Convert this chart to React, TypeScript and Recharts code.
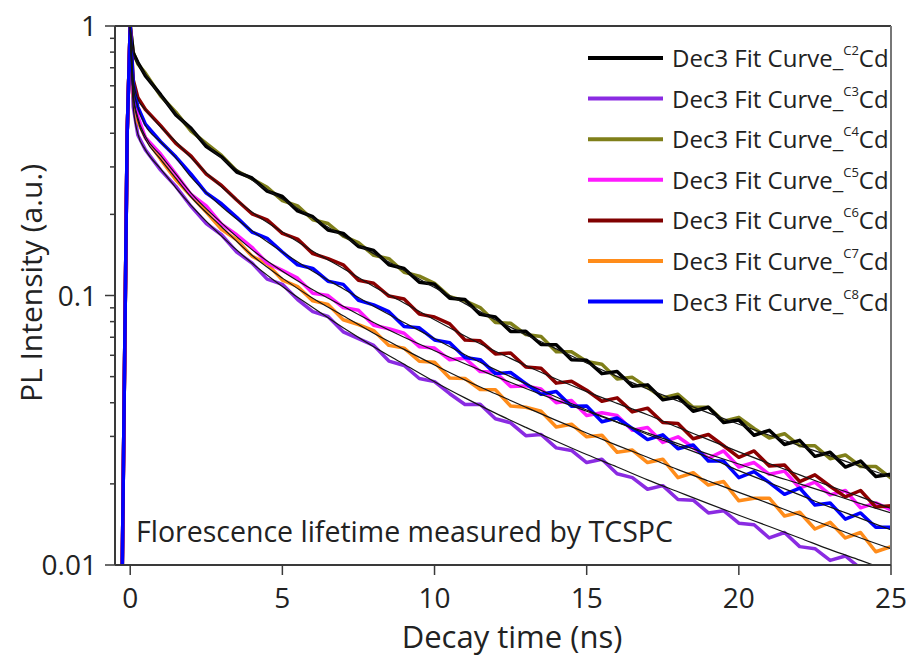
import { LineChart, Line, XAxis, YAxis, ReferenceLine } from "recharts";

// measured decay curves, time in ns
const TIMES = [
  -0.3, -0.1, 0, 0.1, 0.25, 0.5, 1, 1.5, 2, 2.5, 3, 3.5, 4, 4.5, 5, 5.5, 6, 6.5, 7, 7.5, 8, 8.5, 9, 9.5, 10,
  10.5, 11, 11.5, 12, 12.5, 13, 13.5, 14, 14.5, 15, 15.5, 16, 16.5, 17, 17.5, 18, 18.5, 19, 19.5, 20, 20.5,
  21, 21.5, 22, 22.5, 23, 23.5, 24, 24.5, 25,
];

const C2_DATA = [
  0.004, 0.4, 1, 0.794, 0.733, 0.653, 0.556, 0.468, 0.417, 0.357, 0.327, 0.287, 0.273, 0.244, 0.233, 0.206,
  0.196, 0.175, 0.17, 0.152, 0.147, 0.13, 0.126, 0.112, 0.11, 0.0977, 0.0966, 0.0851, 0.0832, 0.0736, 0.0737,
  0.0658, 0.0656, 0.0577, 0.0575, 0.0513, 0.0522, 0.0461, 0.0466, 0.041, 0.042, 0.0372, 0.0385, 0.0338,
  0.0345, 0.0303, 0.0316, 0.028, 0.029, 0.0253, 0.0262, 0.0231, 0.0243, 0.0213, 0.0217,
];
const C3_DATA = [
  0.004, 0.4, 1, 0.501, 0.394, 0.347, 0.292, 0.254, 0.214, 0.185, 0.168, 0.145, 0.132, 0.115, 0.11, 0.0966,
  0.0871, 0.0836, 0.0733, 0.0692, 0.0653, 0.0571, 0.055, 0.0492, 0.0479, 0.0432, 0.0394, 0.0395, 0.0349,
  0.0337, 0.0302, 0.0305, 0.0272, 0.0266, 0.024, 0.0247, 0.0218, 0.0211, 0.0191, 0.0197, 0.0175, 0.0174,
  0.0156, 0.0159, 0.0143, 0.0141, 0.0126, 0.0132, 0.0117, 0.0115, 0.0104, 0.0108, 0.00971, 0.00959, 0.00863,
];
const C4_DATA = [
  0.004, 0.4, 1, 0.799, 0.724, 0.668, 0.55, 0.479, 0.407, 0.367, 0.331, 0.29, 0.271, 0.252, 0.225, 0.215,
  0.191, 0.185, 0.166, 0.157, 0.141, 0.137, 0.122, 0.118, 0.111, 0.0989, 0.0955, 0.0902, 0.0794, 0.0789,
  0.0716, 0.0705, 0.0619, 0.0618, 0.0569, 0.0556, 0.049, 0.0497, 0.0455, 0.0417, 0.043, 0.0385, 0.0385,
  0.0342, 0.0353, 0.0321, 0.0296, 0.0307, 0.0277, 0.0277, 0.0248, 0.0256, 0.0232, 0.0232, 0.021,
];
const C5_DATA = [
  0.004, 0.4, 1, 0.562, 0.462, 0.385, 0.335, 0.282, 0.237, 0.215, 0.184, 0.168, 0.151, 0.132, 0.124, 0.116,
  0.102, 0.1, 0.0902, 0.0881, 0.0776, 0.0753, 0.0724, 0.0646, 0.0638, 0.0577, 0.0585, 0.0522, 0.0519, 0.046,
  0.0462, 0.045, 0.04, 0.0408, 0.0359, 0.0367, 0.0359, 0.0316, 0.0324, 0.0285, 0.0299, 0.0273, 0.0249,
  0.0265, 0.0231, 0.024, 0.0217, 0.0223, 0.0193, 0.0203, 0.0182, 0.0189, 0.0163, 0.017, 0.016,
];
const C6_DATA = [
  0.004, 0.4, 1, 0.631, 0.543, 0.49, 0.427, 0.367, 0.329, 0.282, 0.256, 0.226, 0.201, 0.191, 0.17, 0.162,
  0.143, 0.137, 0.13, 0.114, 0.111, 0.0995, 0.0971, 0.0853, 0.0832, 0.0785, 0.0684, 0.0679, 0.0607, 0.0612,
  0.0543, 0.0537, 0.0473, 0.0481, 0.0445, 0.0405, 0.0417, 0.037, 0.0382, 0.0338, 0.0335, 0.0294, 0.0305,
  0.0277, 0.0251, 0.0265, 0.0233, 0.0235, 0.0204, 0.0216, 0.0196, 0.0179, 0.0189, 0.0164, 0.0166,
];
const C7_DATA = [
  0.004, 0.4, 1, 0.55, 0.442, 0.385, 0.32, 0.269, 0.234, 0.204, 0.176, 0.161, 0.14, 0.131, 0.114, 0.108,
  0.0955, 0.0927, 0.0813, 0.078, 0.0741, 0.0653, 0.0638, 0.057, 0.0565, 0.0494, 0.0492, 0.0448, 0.0447,
  0.0389, 0.0385, 0.0372, 0.0325, 0.0333, 0.0299, 0.0303, 0.0262, 0.0267, 0.024, 0.0247, 0.0211, 0.022,
  0.0198, 0.0204, 0.0173, 0.0177, 0.0177, 0.0152, 0.0157, 0.0136, 0.0144, 0.0126, 0.0132, 0.0112, 0.0117,
];
const C8_DATA = [
  0.004, 0.4, 1, 0.61, 0.501, 0.432, 0.372, 0.327, 0.282, 0.24, 0.219, 0.195, 0.172, 0.163, 0.145, 0.13,
  0.126, 0.113, 0.11, 0.0959, 0.0923, 0.0871, 0.0767, 0.0759, 0.0684, 0.0668, 0.0589, 0.0578, 0.0513,
  0.0518, 0.0471, 0.043, 0.044, 0.0388, 0.0389, 0.034, 0.0351, 0.0321, 0.0292, 0.0304, 0.027, 0.0279,
  0.0243, 0.0243, 0.0211, 0.0222, 0.0202, 0.0183, 0.0193, 0.0167, 0.017, 0.0148, 0.0156, 0.0138, 0.0138,
];

// Dec3 fit curves
const FIT_TIMES = [0, 0.1, 0.25, 0.5, 1, 1.5, 2, 3, 4, 5, 6, 7, 8, 9, 10, 11, 12, 13, 14, 15, 16, 17, 18, 19, 20, 21, 22, 23, 24, 25];

const C2_FIT = [
  1, 0.794, 0.724, 0.661, 0.55, 0.473, 0.412, 0.324, 0.268, 0.228, 0.194, 0.166, 0.143, 0.124, 0.107, 0.0933,
  0.0813, 0.0716, 0.0634, 0.0562, 0.0501, 0.045, 0.0406, 0.0367, 0.0333, 0.0303, 0.0277, 0.0254, 0.0232, 0.0212,
];
const C3_FIT = [
  1, 0.501, 0.398, 0.347, 0.295, 0.251, 0.216, 0.166, 0.132, 0.108, 0.0902, 0.0759, 0.0646, 0.0556, 0.0479,
  0.0417, 0.0366, 0.0324, 0.0288, 0.0257, 0.0231, 0.0207, 0.0187, 0.0169, 0.0153, 0.0139, 0.0126, 0.0114,
  0.0104, 0.00946,
];
const C5_FIT = [
  1, 0.562, 0.457, 0.389, 0.331, 0.282, 0.24, 0.186, 0.148, 0.123, 0.105, 0.0912, 0.0794, 0.07, 0.0624, 0.0558,
  0.0501, 0.0452, 0.0409, 0.0372, 0.0339, 0.0309, 0.0282, 0.0258, 0.0237, 0.0217, 0.02, 0.0184, 0.0169, 0.0156,
];
const C6_FIT = [
  1, 0.631, 0.537, 0.49, 0.422, 0.372, 0.324, 0.253, 0.204, 0.172, 0.146, 0.126, 0.108, 0.0938, 0.0813, 0.0708,
  0.0621, 0.055, 0.049, 0.044, 0.0398, 0.0361, 0.0324, 0.0292, 0.0263, 0.0238, 0.0216, 0.0196, 0.0179, 0.0162,
];
const C7_FIT = [
  1, 0.55, 0.447, 0.38, 0.32, 0.272, 0.232, 0.18, 0.141, 0.116, 0.0977, 0.0841, 0.0724, 0.0631, 0.0552, 0.0486,
  0.0432, 0.0385, 0.0344, 0.0309, 0.0278, 0.0251, 0.0226, 0.0205, 0.0186, 0.0169, 0.0153, 0.0139, 0.0126, 0.0115,
];
const C8_FIT = [
  1, 0.603, 0.501, 0.427, 0.372, 0.324, 0.275, 0.214, 0.174, 0.145, 0.123, 0.106, 0.0912, 0.0794, 0.0692,
  0.0603, 0.0531, 0.0471, 0.042, 0.0376, 0.0339, 0.0305, 0.0277, 0.0251, 0.0224, 0.0202, 0.0182, 0.0164,
  0.0149, 0.0135,
];

const X_TICKS = [0, 5, 10, 15, 20, 25];
const Y_TICKS = [
  0.01, 0.02, 0.03, 0.04, 0.05, 0.06, 0.07, 0.08, 0.09, 0.1, 0.2, 0.3, 0.4, 0.5, 0.6, 0.7, 0.8, 0.9, 1,
];
const Y_MAJOR = [0.01, 0.1, 1];

const LEGEND = [
  { sup: "C2", color: "#000000" },
  { sup: "C3", color: "#8a2be2" },
  { sup: "C4", color: "#7f7f1a" },
  { sup: "C5", color: "#ff1aff" },
  { sup: "C6", color: "#800000" },
  { sup: "C7", color: "#ff8c1a" },
  { sup: "C8", color: "#0000ff" },
];

const FONT = "'Open Sans', 'DejaVu Sans', sans-serif";
const AXIS = "#3a3a3a";

const pts = (xs: number[], ys: number[]) => xs.map((t, i) => ({ t, v: ys[i] }));

const DATA_LINES = [
  { data: C4_DATA, color: "#7f7f1a" },
  { data: C2_DATA, color: "#000000" },
  { data: C3_DATA, color: "#8a2be2" },
  { data: C7_DATA, color: "#ff8c1a" },
  { data: C5_DATA, color: "#ff1aff" },
  { data: C6_DATA, color: "#8b0000" },
  { data: C8_DATA, color: "#0000ff" },
];
const FIT_LINES = [C2_FIT, C3_FIT, C5_FIT, C6_FIT, C7_FIT, C8_FIT];

function YTick(props: any) {
  const { x, y, payload } = props;
  const major = Y_MAJOR.includes(payload.value);
  return (
    <g>
      <line x1={x - (major ? 10 : 5)} x2={x} y1={y} y2={y} stroke={AXIS} strokeWidth={1.5} />
      {major && (
        <text x={x - 18} y={y + 10} textAnchor="end" fontSize={28} fontFamily={FONT} fill="#222">
          {payload.value}
        </text>
      )}
    </g>
  );
}

function XTick(props: any) {
  const { x, y, payload } = props;
  return (
    <g>
      <line x1={x} x2={x} y1={y} y2={y + 10} stroke={AXIS} strokeWidth={1.5} />
      <text x={x} y={y + 43} textAnchor="middle" fontSize={28} fontFamily={FONT} fill="#222">
        {payload.value}
      </text>
    </g>
  );
}

export default function App() {
  return (
    <div style={{ position: "absolute", left: 0, top: 0, width: 909, height: 660, background: "#fff" }}>
      <LineChart width={909} height={660} margin={{ top: 26, right: 18, bottom: 0, left: 0 }}>
        <XAxis
          dataKey="t"
          type="number"
          domain={[-0.5, 25]}
          ticks={X_TICKS}
          interval={0}
          allowDataOverflow
          height={95}
          tickSize={0}
          tickMargin={0}
          tickLine={false}
          tick={<XTick />}
          axisLine={{ stroke: AXIS, strokeWidth: 2 }}
        />
        <YAxis
          type="number"
          scale="log"
          domain={[0.01, 1]}
          ticks={Y_TICKS}
          interval={0}
          allowDataOverflow
          width={115}
          tickSize={0}
          tickMargin={0}
          tickLine={false}
          tick={<YTick />}
          axisLine={{ stroke: AXIS, strokeWidth: 2 }}
        />
        {DATA_LINES.map((s, i) => (
          <Line
            key={"d" + i}
            data={pts(TIMES, s.data)}
            dataKey="v"
            type="linear"
            stroke={s.color}
            strokeWidth={3.5}
            strokeLinejoin="round"
            dot={false}
            activeDot={false}
            isAnimationActive={false}
          />
        ))}
        {FIT_LINES.map((f, i) => (
          <Line
            key={"f" + i}
            data={pts(FIT_TIMES, f)}
            dataKey="v"
            type="monotone"
            stroke="#151515"
            strokeWidth={1.2}
            dot={false}
            activeDot={false}
            isAnimationActive={false}
          />
        ))}
        <ReferenceLine y={1} stroke={AXIS} strokeWidth={2} />
        <ReferenceLine x={25} stroke="#777" strokeWidth={2} />
      </LineChart>
      <svg width={909} height={660} style={{ position: "absolute", left: 0, top: 0, pointerEvents: "none" }}>
        <text
          transform="translate(42,283) rotate(-90)"
          textAnchor="middle"
          fontSize={30}
          fontFamily={FONT}
          fill="#222"
        >
          PL Intensity (a.u.)
        </text>
        <text x={512} y={648} textAnchor="middle" fontSize={31} fontFamily={FONT} fill="#222">
          Decay time (ns)
        </text>
        <text x={136} y={542} fontSize={28.5} fontFamily={FONT} fill="#222">
          Florescence lifetime measured by TCSPC
        </text>
        {LEGEND.map((l, i) => {
          const y = 58 + i * 40.6;
          return (
            <g key={l.sup}>
              <line x1={588} x2={663} y1={y} y2={y} stroke={l.color} strokeWidth={4} />
              <text x={672} y={y + 9} fontSize={24} fontFamily={FONT} fill="#222">
                Dec3 Fit Curve_
                <tspan fontSize={13} dy={-12}>
                  {l.sup}
                </tspan>
                <tspan fontSize={24} dy={12}>
                  Cd
                </tspan>
              </text>
            </g>
          );
        })}
      </svg>
    </div>
  );
}
